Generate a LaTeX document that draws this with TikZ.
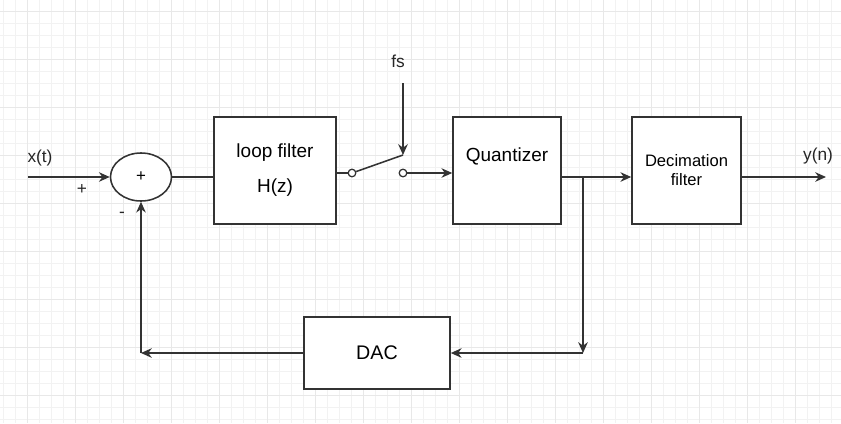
\documentclass[tikz,border=0pt]{standalone}
\usepackage{fontspec}
\setmainfont{Liberation Sans}
\usepackage{tikz}
\usetikzlibrary{arrows.meta,positioning,shapes.geometric,calc}
\usepackage{xcolor}

\begin{document}
\begin{tikzpicture}[
  x=0.025cm,y=-0.025cm,
  block/.style={draw=black!80,line width=1.1pt,fill=white,inner sep=0pt,
                align=center,font=\fontsize{13.5}{16}\selectfont},
  adder/.style={draw=black!80,line width=1.1pt,ellipse,fill=white,inner sep=0pt,
                minimum width=1.525cm,minimum height=1.2cm,font=\fontsize{12}{14}\selectfont},
  contact/.style={draw=black!80,circle,line width=0.9pt,fill=white,inner sep=0pt,minimum size=0.19cm},
  arr/.style={-{Stealth[length=2.7mm,width=2.4mm]},line width=1.1pt,draw=black!80},
  wire/.style={line width=1.1pt,draw=black!80},
  sig/.style={font=\fontsize{12.3}{14}\selectfont,text=black!85},
  minorgrid/.style={draw=black!5,line width=0.5pt},
  majorgrid/.style={draw=black!9,line width=0.6pt}
]
\useasboundingbox (0,0) rectangle (841,423);

% background grid
\foreach \x in {3,15,...,843} \draw[minorgrid] (\x,0) -- (\x,423);
\foreach \y in {11,23,...,423} \draw[minorgrid] (0,\y) -- (841,\y);
\foreach \x in {27,75,...,843} \draw[majorgrid] (\x,0) -- (\x,423);
\foreach \y in {11,59,...,423} \draw[majorgrid] (0,\y) -- (841,\y);

% blocks
\node[adder] (sum) at (141,177) {+};
\node[block,minimum width=3.05cm,minimum height=2.675cm] (loop) at (275,170.5)
  {loop filter\\[9pt]H(z)};
\node[block,minimum width=2.7cm,minimum height=2.675cm,
      label={[yshift=0.34cm,font=\fontsize{13.5}{16}\selectfont]center:Quantizer}] (quant) at (507,170.5) {};
\node[block,minimum width=2.725cm,minimum height=2.675cm,
      font=\fontsize{11.8}{13.5}\selectfont] (decim) at (686.5,170.5) {Decimation\\filter};
\node[block,minimum width=3.65cm,minimum height=1.8cm,
      font=\fontsize{14}{16}\selectfont] (dac) at (377,353) {DAC};

% sampling switch
\node[contact] (swa) at (352,173) {};
\node[contact] (swb) at (403,173) {};
\coordinate (swtip) at (403,155);
\coordinate (fstop) at (403,83);

% free ends and branch points
\coordinate (xin) at (28,177);
\coordinate (yout) at (826,177);
\coordinate (tap) at (583,177);
\coordinate (tapdn) at (583,353);
\coordinate (fbk) at (141,353);

% labels
\node[sig] (xlab) at (40,158) {x(t)};
\node[sig] (plus) at (82,190) {+};
\node[sig] (minus) at (122,215) {-};
\node[sig] (fslab) at (398,61) {fs};
\node[sig] (ylab) at (818,156) {y(n)};

% forward path
\draw[arr] (xin) -- (sum.west);
\draw[wire] (sum.east) -- (sum.east -| loop.west);
\draw[wire] (loop.east |- swa) -- (swa.west);
\draw[wire] (swa.19) -- (swtip);
\draw[arr] (fstop) -- (swtip);
\draw[arr] (swb.east) -- (swb -| quant.west);
\draw[wire] (quant.east |- tap) -- (tap);
\draw[arr] (tap) -- (tap -| decim.west);
\draw[arr] (decim.east |- yout) -- (yout);

% feedback path
\draw[arr] (tap) -- (tapdn);
\draw[arr] (tapdn) -- (dac.east);
\draw[arr] (dac.west) -- (fbk);
\draw[arr] (fbk) -- (sum.south);

\end{tikzpicture}
\end{document}
